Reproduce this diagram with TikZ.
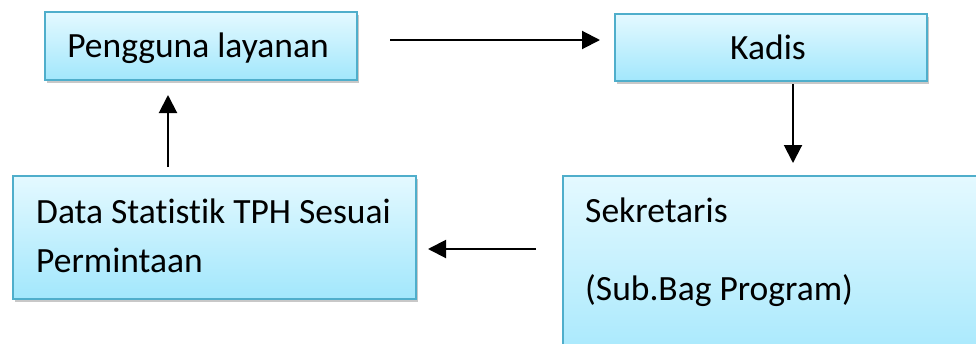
\documentclass[tikz,border=0pt]{standalone}
\usepackage{fontspec}
\setmainfont{Carlito}[RawFeature=-liga]
\usetikzlibrary{shadows,arrows.meta}
\definecolor{boxborder}{HTML}{4FAECB}
\definecolor{boxtop}{HTML}{E4F9FF}
\definecolor{boxbot}{HTML}{A2E7FC}
\tikzset{
  box/.style={draw=boxborder, line width=1.6pt, rectangle, anchor=north west,
    top color=boxtop, bottom color=boxbot, inner sep=0pt,
    drop shadow={shadow xshift=2pt, shadow yshift=-3.5pt, opacity=0.3, fill=black!70}},
  txt/.style={font=\fontsize{35.5}{40}\selectfont, inner sep=0pt},
  flow/.style={line width=2pt, -{Triangle[length=18pt,width=18pt]}}
}
\begin{document}
\begin{tikzpicture}[x=1pt,y=-1pt]
\useasboundingbox (0,0) rectangle (976,343);
\fill[white] (0,0) rectangle (976,343);
% boxes
\node[box, minimum width=312pt, minimum height=68pt] (peng) at (44,11) {};
\node[box, minimum width=312pt, minimum height=67pt] (kadis) at (614,13) {};
\node[box, minimum width=430pt, minimum height=200pt] (sek) at (562,175) {};
\node[box, minimum width=403pt, minimum height=123pt] (data) at (12,175) {};
% texts
\node[txt, anchor=base] (tpeng) at (198,57) {Pengguna layanan};
\node[txt, anchor=base] (tkadis) at (768,59) {Kadis};
\node[txt, anchor=base west] (tsek1) at (585,222) {Sekretaris};
\node[txt, anchor=base west] (tsek2) at (585,300) {(Sub.Bag Program)};
\node[txt, anchor=base west] (tdata1) at (36,223) {Data Statistik TPH Sesuai};
\node[txt, anchor=base west] (tdata2) at (36,272) {Permintaan};
% connector end points
\coordinate (a1s) at (390,40);
\coordinate (a1e) at (600,40);
\coordinate (a2s) at (793,84);
\coordinate (a2e) at (793,163);
\coordinate (a3s) at (536,249);
\coordinate (a3e) at (428,249);
\coordinate (a4s) at (168,167);
\coordinate (a4e) at (168,95);
\draw[flow] (a1s) -- (a1e);
\draw[flow] (a2s) -- (a2e);
\draw[flow] (a3s) -- (a3e);
\draw[flow] (a4s) -- (a4e);
\end{tikzpicture}
\end{document}
